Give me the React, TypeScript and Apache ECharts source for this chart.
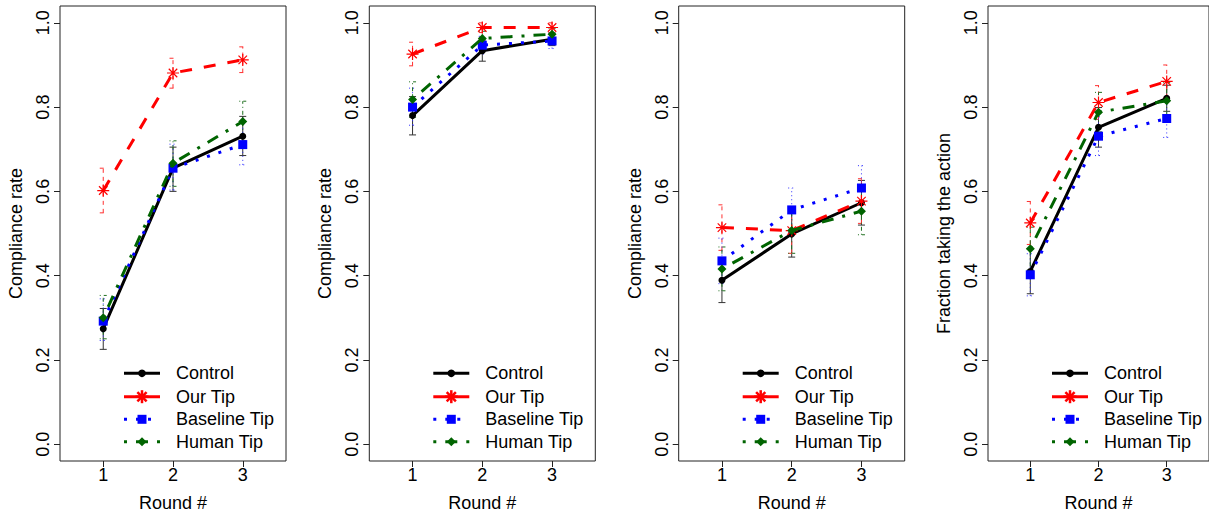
import React, { useEffect, useRef } from "react";
import * as echarts from "echarts";

const rounds = [1, 2, 3];
const groupNames = ["Control", "Our Tip", "Baseline Tip", "Human Tip"];
const yTitles = ["Compliance rate", "Compliance rate", "Compliance rate", "Fraction taking the action"];
const xTitle = "Round #";
const yTicks = [0, 0.2, 0.4, 0.6, 0.8, 1.0];
const xTicks = [1, 2, 3];

// Panel 1
const p1Control = [0.274, 0.655, 0.731];
const p1ControlLo = [0.225, 0.600, 0.685];
const p1ControlHi = [0.322, 0.705, 0.778];
const p1OurTip = [0.602, 0.881, 0.912];
const p1OurTipLo = [0.549, 0.845, 0.882];
const p1OurTipHi = [0.655, 0.916, 0.943];
const p1Baseline = [0.292, 0.655, 0.711];
const p1BaselineLo = [0.246, 0.603, 0.663];
const p1BaselineHi = [0.345, 0.712, 0.760];
const p1Human = [0.300, 0.667, 0.766];
const p1HumanLo = [0.250, 0.612, 0.720];
const p1HumanHi = [0.353, 0.720, 0.814];

// Panel 2
const p2Control = [0.780, 0.934, 0.961];
const p2ControlLo = [0.734, 0.909, 0.946];
const p2ControlHi = [0.825, 0.959, 0.976];
const p2OurTip = [0.926, 0.989, 0.989];
const p2OurTipLo = [0.898, 0.977, 0.977];
const p2OurTipHi = [0.954, 1.0, 1.0];
const p2Baseline = [0.800, 0.947, 0.957];
const p2BaselineLo = [0.757, 0.926, 0.939];
const p2BaselineHi = [0.845, 0.968, 0.975];
const p2Human = [0.818, 0.963, 0.973];
const p2HumanLo = [0.776, 0.946, 0.959];
const p2HumanHi = [0.860, 0.980, 0.987];

// Panel 3
const p3Control = [0.389, 0.499, 0.573];
const p3ControlLo = [0.336, 0.444, 0.520];
const p3ControlHi = [0.442, 0.554, 0.626];
const p3OurTip = [0.514, 0.507, 0.577];
const p3OurTipLo = [0.460, 0.453, 0.524];
const p3OurTipHi = [0.568, 0.561, 0.630];
const p3Baseline = [0.435, 0.556, 0.608];
const p3BaselineLo = [0.381, 0.503, 0.555];
const p3BaselineHi = [0.489, 0.608, 0.661];
const p3Human = [0.416, 0.507, 0.553];
const p3HumanLo = [0.364, 0.453, 0.497];
const p3HumanHi = [0.468, 0.561, 0.609];

// Panel 4
const p4Control = [0.410, 0.752, 0.821];
const p4ControlLo = [0.357, 0.705, 0.790];
const p4ControlHi = [0.463, 0.799, 0.852];
const p4OurTip = [0.525, 0.811, 0.861];
const p4OurTipLo = [0.474, 0.771, 0.822];
const p4OurTipHi = [0.576, 0.851, 0.900];
const p4Baseline = [0.402, 0.731, 0.773];
const p4BaselineLo = [0.352, 0.685, 0.728];
const p4BaselineHi = [0.452, 0.777, 0.818];
const p4Human = [0.464, 0.788, 0.815];
const p4HumanLo = [0.413, 0.741, 0.772];
const p4HumanHi = [0.515, 0.835, 0.858];

const panels = [
  { means: [p1Control, p1OurTip, p1Baseline, p1Human], lo: [p1ControlLo, p1OurTipLo, p1BaselineLo, p1HumanLo], hi: [p1ControlHi, p1OurTipHi, p1BaselineHi, p1HumanHi] },
  { means: [p2Control, p2OurTip, p2Baseline, p2Human], lo: [p2ControlLo, p2OurTipLo, p2BaselineLo, p2HumanLo], hi: [p2ControlHi, p2OurTipHi, p2BaselineHi, p2HumanHi] },
  { means: [p3Control, p3OurTip, p3Baseline, p3Human], lo: [p3ControlLo, p3OurTipLo, p3BaselineLo, p3HumanLo], hi: [p3ControlHi, p3OurTipHi, p3BaselineHi, p3HumanHi] },
  { means: [p4Control, p4OurTip, p4Baseline, p4Human], lo: [p4ControlLo, p4OurTipLo, p4BaselineLo, p4HumanLo], hi: [p4ControlHi, p4OurTipHi, p4BaselineHi, p4HumanHi] },
];

const FONT = "'Liberation Sans', Arial, Helvetica, sans-serif";
const colors = ["#000000", "#ff0000", "#0000ff", "#006400"];
const lineDashes: any[] = ["solid", [12, 12], [3, 9], [3, 9, 12, 9]];
const errColors = ["#333333", "#ff3030", "#3030ff", "#207020"];
const errDashes: any[] = [null, [4, 4], [1, 3], [1, 3, 4, 3]];
const ASTERISK = "path://M10,0 L10,20 M0,10 L20,10 M2.93,2.93 L17.07,17.07 M2.93,17.07 L17.07,2.93";

const gridLefts = [60, 369.3, 678.7, 988];
const gridTop = 6;
const gridW = 226;
const gridH = 456;

function buildOption() {
  const grids: any[] = [];
  const xAxes: any[] = [];
  const yAxes: any[] = [];
  const series: any[] = [];
  const graphics: any[] = [];

  panels.forEach((p, i) => {
    grids.push({
      left: gridLefts[i], top: gridTop, width: gridW, height: gridH,
      show: true, borderColor: "#222", borderWidth: 1, backgroundColor: "transparent",
    });
    xAxes.push({
      gridIndex: i, type: "value", min: 0.38, max: 3.62, position: "bottom",
      name: xTitle, nameLocation: "middle", nameGap: 33,
      nameTextStyle: { fontFamily: FONT, fontSize: 18, color: "#000" },
      axisLine: { show: false, onZero: false },
      axisTick: { show: true, length: 6, customValues: xTicks, lineStyle: { color: "#222" } },
      axisLabel: { customValues: xTicks, margin: 5, fontFamily: FONT, fontSize: 18, color: "#000" },
      splitLine: { show: false },
    });
    yAxes.push({
      gridIndex: i, type: "value", min: -0.04, max: 1.04, position: "left",
      name: yTitles[i], nameLocation: "middle", nameGap: 35,
      nameTextStyle: { fontFamily: FONT, fontSize: 18, color: "#000" },
      axisLine: { show: false, onZero: false },
      axisTick: { show: true, length: 6, customValues: yTicks, lineStyle: { color: "#222" } },
      axisLabel: {
        customValues: yTicks, rotate: 90, margin: 8, fontFamily: FONT, fontSize: 18, color: "#000",
        formatter: (v: number) => v.toFixed(1),
      },
      splitLine: { show: false },
    });

    // error bars
    const errData: any[] = [];
    for (let g = 0; g < 4; g++) {
      rounds.forEach((r, k) => errData.push([r, p.lo[g][k], p.hi[g][k], g]));
    }
    series.push({
      type: "custom", xAxisIndex: i, yAxisIndex: i, z: 1, silent: true,
      data: errData,
      encode: { x: 0, y: [1, 2] },
      renderItem: (params: any, api: any) => {
        const x = api.value(0);
        const g = api.value(3);
        const a = api.coord([x, api.value(1)]);
        const b = api.coord([x, api.value(2)]);
        const style: any = { stroke: errColors[g], lineWidth: 1, fill: "none" };
        if (errDashes[g]) style.lineDash = errDashes[g];
        const cw = 3.5;
        return {
          type: "group",
          children: [
            { type: "line", shape: { x1: a[0], y1: a[1], x2: b[0], y2: b[1] }, style },
            { type: "line", shape: { x1: a[0] - cw, y1: a[1], x2: a[0] + cw, y2: a[1] }, style },
            { type: "line", shape: { x1: b[0] - cw, y1: b[1], x2: b[0] + cw, y2: b[1] }, style },
          ],
        };
      },
    });

    // lines
    for (let g = 0; g < 4; g++) {
      const sym = g === 0 ? "circle" : g === 1 ? ASTERISK : g === 2 ? "rect" : "diamond";
      const size = g === 0 ? 7 : g === 1 ? 12 : g === 2 ? 9 : 9;
      series.push({
        type: "line", name: groupNames[g], xAxisIndex: i, yAxisIndex: i, z: 2 + g,
        data: rounds.map((r, k) => [r, p.means[g][k]]),
        symbol: sym, symbolSize: size, showSymbol: true,
        lineStyle: { color: colors[g], width: 3, type: lineDashes[g] },
        itemStyle: g === 1
          ? { color: colors[g], borderColor: colors[g], borderWidth: 1.2 }
          : { color: colors[g], borderWidth: 0 },
        silent: true,
      });
    }

    // legend
    const L = gridLefts[i];
    const rowsY = [373.3, 396.7, 419.3, 441.7];
    for (let g = 0; g < 4; g++) {
      const y = rowsY[g];
      const ls: any = { stroke: colors[g], lineWidth: 3 };
      if (g === 2) ls.lineDash = [3, 9];
      if (g === 3) ls.lineDash = [3, 9, 12, 9];
      graphics.push({ type: "line", shape: { x1: L + 64, y1: y, x2: L + 100, y2: y }, style: ls, z: 10 });
      const cx = L + 82;
      if (g === 0) {
        graphics.push({ type: "circle", shape: { cx, cy: y, r: 3.8 }, style: { fill: colors[0] }, z: 11 });
      } else if (g === 1) {
        const s = 6.5;
        const d = s * 0.707;
        const st = { stroke: colors[1], lineWidth: 2.5 };
        graphics.push({ type: "line", shape: { x1: cx - s, y1: y, x2: cx + s, y2: y }, style: st, z: 11 });
        graphics.push({ type: "line", shape: { x1: cx, y1: y - s, x2: cx, y2: y + s }, style: st, z: 11 });
        graphics.push({ type: "line", shape: { x1: cx - d, y1: y - d, x2: cx + d, y2: y + d }, style: st, z: 11 });
        graphics.push({ type: "line", shape: { x1: cx - d, y1: y + d, x2: cx + d, y2: y - d }, style: st, z: 11 });
      } else if (g === 2) {
        graphics.push({ type: "rect", shape: { x: cx - 4.5, y: y - 4.5, width: 9, height: 9 }, style: { fill: colors[2] }, z: 11 });
      } else {
        graphics.push({
          type: "polygon",
          shape: { points: [[cx, y - 4.5], [cx + 4.5, y], [cx, y + 4.5], [cx - 4.5, y]] },
          style: { fill: colors[3] }, z: 11,
        });
      }
      graphics.push({
        type: "text", x: L + 116, y, z: 11,
        style: { text: groupNames[g], fill: "#000", font: `18px ${FONT}`, verticalAlign: "middle", align: "left" },
      });
    }
  });

  return {
    animation: false,
    backgroundColor: "#ffffff",
    grid: grids,
    xAxis: xAxes,
    yAxis: yAxes,
    series,
    graphic: graphics,
  };
}

export default function App() {
  const ref = useRef<HTMLDivElement>(null);
  useEffect(() => {
    if (!ref.current) return;
    const chart = echarts.init(ref.current, undefined, { renderer: "svg" });
    chart.setOption(buildOption() as any);
    return () => chart.dispose();
  }, []);
  return (
    <div
      ref={ref}
      style={{ position: "fixed", left: 0, top: 0, width: 1209, height: 517, background: "#fff" }}
    />
  );
}
